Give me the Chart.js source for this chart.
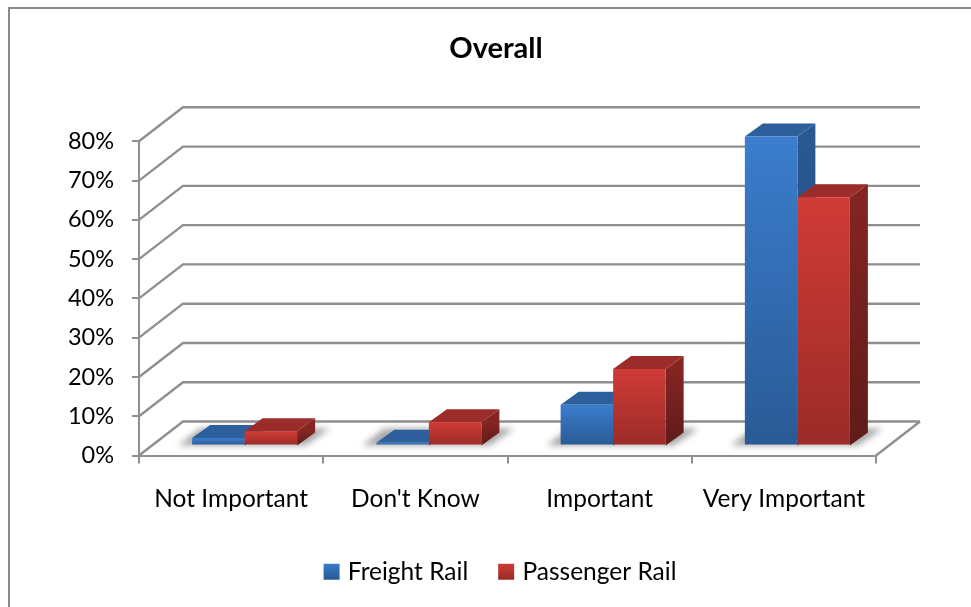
<!DOCTYPE html>
<html>
<head>
<meta charset="utf-8">
<title>Overall</title>
<script src="https://cdn.jsdelivr.net/npm/chart.js@4"></script>
<style>
    html, body { margin: 0; padding: 0; background: #fff; overflow: hidden; }
    canvas { display: block; }
</style>
</head>
<body>
<canvas id="overallChart" width="971" height="607"></canvas>
<script>
// Values
const categories = ["Not Important", "Don't Know", "Important", "Very Important"];
const freightRail = [1.9, 0.7, 10.4, 78.7];
const passengerRail = [3.6, 5.9, 19.5, 63.2];
const seriesNames = ["Freight Rail", "Passenger Rail"];

const fontName = "Lato, Carlito, sans-serif";
const lineColor = "#8f8f8f";

// 3D offsets in pixels
const wallDepth = { x: 44, y: -34 };
const barShift = { x: 13.5, y: -10 };
const barDepth = { x: 18, y: -13 };

const blue = { top: "#3b7dce", bottom: "#2a5a95", roof: "#2d5f9c", sideTop: "#2a5892", sideBottom: "#234a78" };
const red = { top: "#d03b36", bottom: "#9b2b28", roof: "#9c2c29", sideTop: "#842522", sideBottom: "#5f1b19" };

function barGradient(context, palette) {
    const chart = context.chart;
    if (!chart.chartArea || context.raw === undefined) {
        return palette.top;
    }
    const y = chart.scales.y;
    const g = chart.ctx.createLinearGradient(0, y.getPixelForValue(context.raw), 0, y.getPixelForValue(0));
    g.addColorStop(0, palette.top);
    g.addColorStop(1, palette.bottom);
    return g;
}

function legendSwatch(ctx, palette) {
    const g = ctx.createLinearGradient(0, 563, 0, 579);
    g.addColorStop(0, palette.top);
    g.addColorStop(1, palette.bottom);
    return g;
}

function fillShape(ctx, points, fill) {
    ctx.fillStyle = fill;
    ctx.beginPath();
    points.forEach((p, i) => (i === 0 ? ctx.moveTo(p[0], p[1]) : ctx.lineTo(p[0], p[1])));
    ctx.closePath();
    ctx.fill();
}

// Side and roof of each bar, in the space already shifted onto the floor
function drawBarFaces(ctx, meta, palette, base) {
    meta.data.forEach((bar) => {
        const left = bar.x - bar.width / 2;
        const right = bar.x + bar.width / 2;
        const side = ctx.createLinearGradient(0, bar.y, 0, base);
        side.addColorStop(0, palette.sideTop);
        side.addColorStop(1, palette.sideBottom);
        fillShape(ctx, [
            [right, bar.y],
            [right + barDepth.x, bar.y + barDepth.y],
            [right + barDepth.x, base + barDepth.y],
            [right, base]
        ], side);
        fillShape(ctx, [
            [left, bar.y],
            [left + barDepth.x, bar.y + barDepth.y],
            [right + barDepth.x, bar.y + barDepth.y],
            [right, bar.y]
        ], palette.roof);
    });
}

// Frame, back wall, floor, shadows, then the bars left to right
const wallPlugin = {
    id: "wall",
    afterLayout(chart) {
        // the legend sits a little right of the title
        chart.legend.left += 6;
        chart.legend.right += 6;
    },
    beforeDraw(chart) {
        const ctx = chart.ctx;
        ctx.save();
        ctx.strokeStyle = "#8a8a8a";
        ctx.lineWidth = 2;
        ctx.beginPath();
        ctx.moveTo(9, 610);
        ctx.lineTo(9, 8);
        ctx.lineTo(975, 8);
        ctx.stroke();
        ctx.restore();
    },
    beforeDatasetsDraw(chart) {
        const ctx = chart.ctx;
        const area = chart.chartArea;
        const y = chart.scales.y;
        const floor = y.getPixelForValue(0);
        const freightMeta = chart.getDatasetMeta(0);
        const passengerMeta = chart.getDatasetMeta(1);

        ctx.save();
        ctx.strokeStyle = lineColor;
        ctx.lineWidth = 2.4;
        y.ticks.forEach((tick) => {
            const py = y.getPixelForValue(tick.value);
            ctx.beginPath();
            ctx.moveTo(area.left, py);
            ctx.lineTo(area.left + wallDepth.x, py + wallDepth.y);
            ctx.lineTo(area.right + wallDepth.x, py + wallDepth.y);
            ctx.stroke();
        });
        ctx.beginPath();
        ctx.moveTo(area.right, floor);
        ctx.lineTo(area.right + wallDepth.x, floor + wallDepth.y);
        ctx.stroke();

        // soft shadow on the floor behind each pair of bars
        ctx.filter = "blur(3px)";
        categories.forEach((c, i) => {
            const a = freightMeta.data[i];
            const b = passengerMeta.data[i];
            const left = a.x - a.width / 2 + barShift.x;
            const right = b.x + b.width / 2 + barShift.x;
            const base = floor + barShift.y;
            fillShape(ctx, [
                [left - 14, base],
                [left + 8, base - 17],
                [right + 33, base - 17],
                [right + 8, base]
            ], "rgba(120,120,120,0.65)");
        });
        ctx.filter = "none";

        ctx.translate(barShift.x, barShift.y);
        drawBarFaces(ctx, freightMeta, blue, floor);
        freightMeta.controller.draw();
        drawBarFaces(ctx, passengerMeta, red, floor);
        passengerMeta.controller.draw();
        ctx.restore();
        return false;
    }
};

const ctx = document.getElementById("overallChart").getContext("2d");

new Chart(ctx, {
    type: "bar",
    data: {
        labels: categories,
        datasets: [
            {
                label: seriesNames[0],
                data: freightRail,
                backgroundColor: (context) => barGradient(context, blue)
            },
            {
                label: seriesNames[1],
                data: passengerRail,
                backgroundColor: (context) => barGradient(context, red)
            }
        ]
    },
    options: {
        responsive: false,
        animation: false,
        devicePixelRatio: 1,
        layout: { padding: { left: 21, right: 0, top: 0, bottom: 13 } },
        datasets: { bar: { categoryPercentage: 0.57, barPercentage: 1 } },
        scales: {
            x: {
                afterFit: (scale) => { scale.height = 70; },
                border: { color: lineColor, width: 2 },
                grid: { drawOnChartArea: false, color: lineColor, lineWidth: 2, tickLength: 8 },
                ticks: { color: "#000", padding: 21, maxRotation: 0, font: { family: fontName, size: 24.5 } }
            },
            y: {
                min: 0,
                max: 80,
                afterFit: (scale) => { scale.width = 118; },
                border: { color: lineColor, width: 2 },
                grid: { drawOnChartArea: false, color: lineColor, lineWidth: 2, tickLength: 7 },
                ticks: {
                    stepSize: 10,
                    color: "#000",
                    padding: 18,
                    font: { family: fontName, size: 23.5 },
                    callback: (value) => value + "%"
                }
            },
            // empty axis that only holds the space right of the plot
            spacer: {
                type: "linear",
                position: "right",
                afterFit: (scale) => { scale.width = 95; },
                border: { display: false },
                grid: { display: false },
                ticks: { display: false }
            }
        },
        plugins: {
            title: {
                display: true,
                text: "Overall",
                color: "#000",
                font: { family: fontName, size: 29, weight: "bold" },
                padding: { top: 31, bottom: 75.5 }
            },
            legend: {
                position: "bottom",
                labels: {
                    usePointStyle: true,
                    pointStyle: "rect",
                    boxWidth: 8,
                    boxHeight: 16,
                    padding: 34,
                    color: "#000",
                    font: { family: fontName, size: 24.5 },
                    generateLabels: () => [
                        { text: seriesNames[0], fillStyle: legendSwatch(ctx, blue), lineWidth: 0, pointStyle: "rect", datasetIndex: 0 },
                        { text: seriesNames[1], fillStyle: legendSwatch(ctx, red), lineWidth: 0, pointStyle: "rect", datasetIndex: 1 }
                    ]
                }
            },
            tooltip: { enabled: false }
        }
    },
    plugins: [wallPlugin]
});
</script>
</body>
</html>
